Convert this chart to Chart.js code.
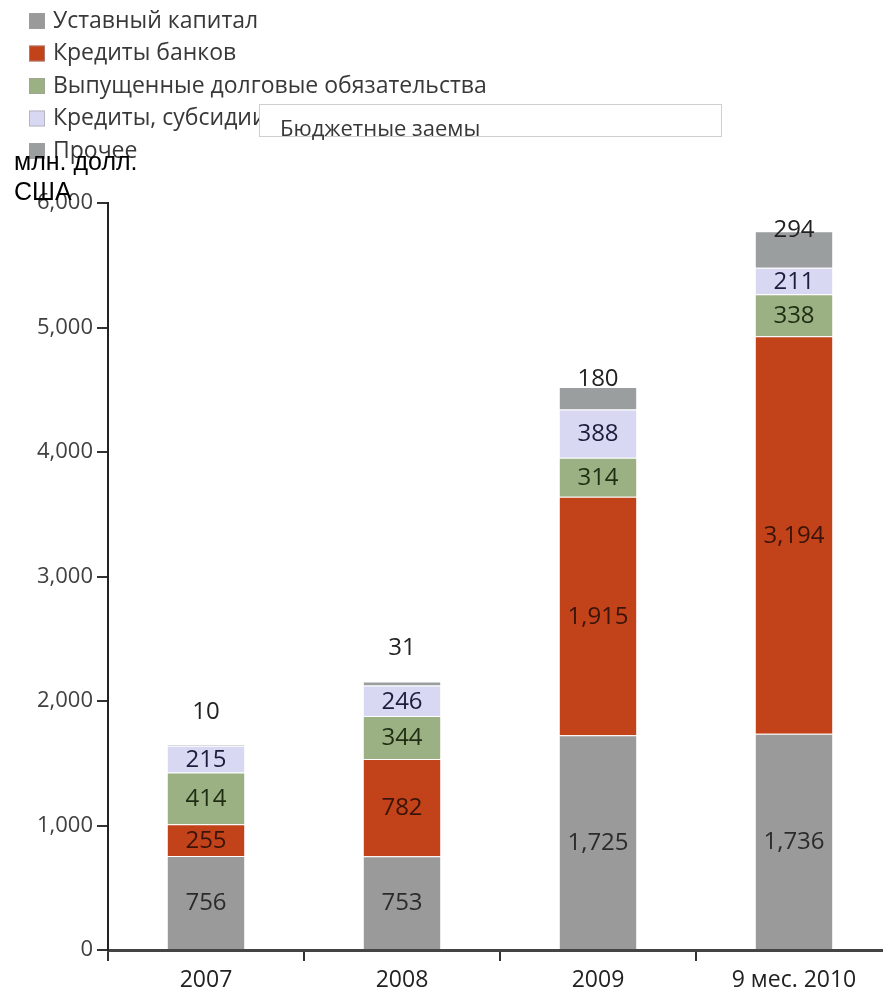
<!DOCTYPE html>
<html>
<head>
<meta charset="utf-8">
<script src="https://cdn.jsdelivr.net/npm/chart.js@4/dist/chart.umd.min.js"></script>
<style>
  html, body { margin: 0; padding: 0; background: #fff; overflow: hidden; }
  canvas { display: block; }
</style>
</head>
<body>
<canvas id="c" width="900" height="992"></canvas>
<script>
// Structure of funding sources, mln USD
const categories = ['2007', '2008', '2009', '9 мес. 2010'];
const shareCapital = [756, 753, 1725, 1736];
const bankLoans = [255, 782, 1915, 3194];
const debtIssued = [414, 344, 314, 338];
const budgetLoans = [215, 246, 388, 211];
const otherSources = [10, 31, 180, 294];
const yTicks = [0, 1000, 2000, 3000, 4000, 5000, 6000];

const seriesNames = [
  'Уставный капитал',
  'Кредиты банков',
  'Выпущенные долговые обязательства',
  'Кредиты, субсидии, бюджетные заемы',
  'Прочее'
];
const seriesColors = ['#9a9a9a', '#c2421a', '#9cb183', '#d8d8f3', '#9b9e9e'];
const labelColors = ['#2b2b2b', '#3a1408', '#1f2d12', '#1c1c3c', '#222222'];
// pixel lift of the "Прочее" value labels above the bar top
const topLabelLift = [33, 34, 9, 2];

const seriesValues = [shareCapital, bankLoans, debtIssued, budgetLoans, otherSources];

const FONT = '"Open Sans", "DejaVu Sans", sans-serif';

const overlay = {
  id: 'overlay',
  afterDatasetsDraw(chart) {
    const ctx = chart.ctx;
    ctx.save();
    ctx.textAlign = 'center';
    ctx.textBaseline = 'middle';
    ctx.font = '24px ' + FONT;
    chart.data.datasets.forEach((ds, di) => {
      const meta = chart.getDatasetMeta(di);
      meta.data.forEach((bar, i) => {
        const v = ds.data[i];
        const txt = v.toLocaleString('en-US');
        ctx.fillStyle = labelColors[di];
        let y;
        if (di === seriesValues.length - 1) {
          y = bar.y - topLabelLift[i];
        } else {
          y = (bar.y + bar.base) / 2;
        }
        ctx.fillText(txt, bar.x, y + 1);
      });
    });
    ctx.restore();
  },
  afterDraw(chart) {
    const ctx = chart.ctx;
    ctx.save();
    // legend
    ctx.textAlign = 'left';
    ctx.textBaseline = 'middle';
    ctx.font = '23px ' + FONT;
    seriesNames.forEach((name, i) => {
      const cy = 21 + i * 32.5;
      ctx.fillStyle = seriesColors[i];
      ctx.fillRect(29, cy - 8, 16, 16);
      ctx.strokeStyle = 'rgba(160,160,160,0.6)';
      ctx.lineWidth = 1;
      ctx.strokeRect(29.5, cy - 7.5, 15, 15);
      ctx.fillStyle = '#383838';
      ctx.fillText(name, 53, cy);
    });
    // caption box
    ctx.fillStyle = '#ffffff';
    ctx.fillRect(259, 104, 463, 33);
    ctx.strokeStyle = '#cfcfcf';
    ctx.lineWidth = 1;
    ctx.strokeRect(259.5, 104.5, 462, 32);
    ctx.fillStyle = '#383838';
    ctx.font = '22px ' + FONT;
    ctx.fillText('Бюджетные заемы', 280, 130);
    // unit caption
    ctx.fillStyle = '#000000';
    ctx.font = '25px "Liberation Sans", Arial, sans-serif';
    ctx.fillText('млн. долл.', 14, 163);
    ctx.fillText('США', 14, 193);
    ctx.restore();
  }
};

new Chart(document.getElementById('c'), {
  type: 'bar',
  data: {
    labels: categories,
    datasets: seriesValues.map((vals, i) => ({
      label: seriesNames[i],
      data: vals,
      backgroundColor: seriesColors[i],
      borderColor: 'rgba(255,255,255,0.2)',
      borderWidth: 1,
      categoryPercentage: 1,
      barPercentage: 0.4
    }))
  },
  options: {
    responsive: false,
    animation: false,
    devicePixelRatio: 1,
    layout: { padding: { top: 203, left: 0, right: 8, bottom: 0 } },
    plugins: { legend: { display: false }, tooltip: { enabled: false } },
    scales: {
      x: {
        stacked: true,
        offset: true,
        grid: { drawOnChartArea: false, offset: true, tickLength: 11, color: '#333', lineWidth: 2 },
        border: { color: '#444', width: 3 },
        ticks: { font: { family: FONT, size: 23 }, color: '#222', padding: 6 },
        afterFit(s) { s.height = 42; }
      },
      y: {
        stacked: true,
        min: 0,
        max: 6000,
        afterBuildTicks(s) { s.ticks = yTicks.map(v => ({ value: v })); },
        grid: { drawOnChartArea: false, tickLength: 11, color: '#333', lineWidth: 2 },
        border: { color: '#222', width: 2 },
        ticks: {
          font: { family: FONT, size: 22 },
          color: '#404040',
          padding: 4,
          callback: v => v.toLocaleString('en-US')
        },
        afterFit(s) { s.width = 108; }
      }
    }
  },
  plugins: [overlay]
});
</script>
</body>
</html>
